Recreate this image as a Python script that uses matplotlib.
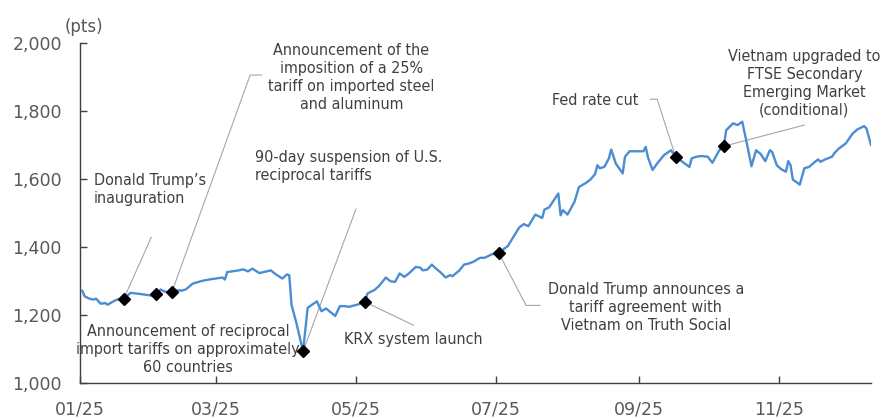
import matplotlib
matplotlib.use("Agg")
import matplotlib.pyplot as plt
import matplotlib.dates as mdates
from matplotlib.ticker import FuncFormatter, FixedLocator
import pandas as pd

# VN-Index closing levels, 2025 (pts)
dates = [
    "2025-01-02", "2025-01-03", "2025-01-05", "2025-01-07", "2025-01-08", "2025-01-10",
    "2025-01-12", "2025-01-13", "2025-01-15", "2025-01-17", "2025-01-19", "2025-01-20",
    "2025-01-23", "2025-01-29", "2025-02-03", "2025-02-05", "2025-02-07", "2025-02-10",
    "2025-02-13", "2025-02-14", "2025-02-16", "2025-02-19", "2025-02-23", "2025-02-26",
    "2025-03-04", "2025-03-05", "2025-03-06", "2025-03-11", "2025-03-13", "2025-03-15",
    "2025-03-17", "2025-03-20", "2025-03-25", "2025-03-27", "2025-03-30", "2025-04-01",
    "2025-04-02", "2025-04-03", "2025-04-05", "2025-04-08", "2025-04-10", "2025-04-14",
    "2025-04-16", "2025-04-18", "2025-04-22", "2025-04-24", "2025-04-26", "2025-04-28",
    "2025-05-02", "2025-05-05", "2025-05-06", "2025-05-08", "2025-05-09", "2025-05-11",
    "2025-05-14", "2025-05-16", "2025-05-18", "2025-05-20", "2025-05-22", "2025-05-24",
    "2025-05-27", "2025-05-29", "2025-05-30", "2025-06-01", "2025-06-03", "2025-06-04",
    "2025-06-07", "2025-06-09", "2025-06-11", "2025-06-12", "2025-06-15", "2025-06-17",
    "2025-06-19", "2025-06-21", "2025-06-24", "2025-06-26", "2025-06-29", "2025-07-02",
    "2025-07-06", "2025-07-11", "2025-07-13", "2025-07-15", "2025-07-18", "2025-07-21",
    "2025-07-22", "2025-07-24", "2025-07-28", "2025-07-29", "2025-07-30", "2025-08-01",
    "2025-08-04", "2025-08-06", "2025-08-09", "2025-08-11", "2025-08-13", "2025-08-14",
    "2025-08-15", "2025-08-17", "2025-08-19", "2025-08-20", "2025-08-22", "2025-08-25",
    "2025-08-26", "2025-08-28", "2025-09-03", "2025-09-04", "2025-09-05", "2025-09-07",
    "2025-09-09", "2025-09-12", "2025-09-15", "2025-09-17", "2025-09-20", "2025-09-23",
    "2025-09-24", "2025-09-26", "2025-09-28", "2025-10-01", "2025-10-03", "2025-10-06",
    "2025-10-08", "2025-10-09", "2025-10-12", "2025-10-14", "2025-10-16", "2025-10-18",
    "2025-10-20", "2025-10-22", "2025-10-24", "2025-10-26", "2025-10-28", "2025-10-29",
    "2025-10-31", "2025-11-02", "2025-11-04", "2025-11-05", "2025-11-06", "2025-11-07",
    "2025-11-10", "2025-11-12", "2025-11-14", "2025-11-17", "2025-11-18", "2025-11-19",
    "2025-11-21", "2025-11-24", "2025-11-25", "2025-11-27", "2025-11-30", "2025-12-03",
    "2025-12-05", "2025-12-08", "2025-12-09", "2025-12-11",
]
index_pts = [
    1271, 1255, 1248, 1245, 1248, 1233,
    1235, 1230, 1238, 1245, 1246, 1247,
    1265, 1260, 1255, 1275, 1268, 1268,
    1273, 1271, 1275, 1292, 1300, 1304,
    1310, 1304, 1326, 1331, 1334, 1328,
    1336, 1323, 1331, 1320, 1307, 1319,
    1317, 1229, 1179, 1093, 1221, 1240,
    1211, 1219, 1197, 1226, 1226, 1224,
    1231, 1238, 1263, 1270, 1273, 1285,
    1310, 1299, 1297, 1322, 1312, 1322,
    1341, 1339, 1331, 1333, 1348, 1341,
    1324, 1310, 1317, 1314, 1331, 1348,
    1351, 1356, 1368, 1368, 1378, 1383,
    1402, 1457, 1467, 1461, 1495, 1485,
    1510, 1516, 1557, 1493, 1508, 1495,
    1532, 1576, 1588, 1598, 1614, 1640,
    1631, 1635, 1660, 1686, 1645, 1616,
    1665, 1681, 1681, 1694, 1663, 1626,
    1645, 1670, 1684, 1665, 1650, 1635,
    1660, 1665, 1667, 1665, 1647, 1684,
    1696, 1743, 1763, 1758, 1768, 1704,
    1637, 1684, 1673, 1652, 1684, 1679,
    1640, 1628, 1621, 1652, 1640, 1598,
    1583, 1631, 1635, 1652, 1657, 1650,
    1657, 1665, 1675, 1689, 1704, 1733,
    1745, 1755, 1748, 1699,
]

# Event markers
event_dates = ["2025-01-20", "2025-02-03", "2025-02-10", "2025-04-08",
               "2025-05-05", "2025-07-02", "2025-09-17", "2025-10-08"]
event_pts = [1247, 1263, 1268, 1093, 1238, 1383, 1665, 1696]

x_tick_dates = ["2025-01-01", "2025-03-01", "2025-05-01", "2025-07-01",
                "2025-09-01", "2025-11-01"]
y_ticks = [1000, 1200, 1400, 1600, 1800, 2000]

LINE_BLUE = "#4a8dd2"
TEXT_GREY = "#404040"
TICK_GREY = "#595959"
LEADER_GREY = "#a6a6a6"

x = pd.to_datetime(dates)
ex = pd.to_datetime(event_dates)

fig = plt.figure(figsize=(8.81, 4.18), dpi=100)
ax = fig.add_axes([0.0908, 0.0837, 0.8979, 0.8141])

ax.plot(x, index_pts, color=LINE_BLUE, lw=1.7, solid_joinstyle="round", zorder=3)
ax.plot(ex, event_pts, ls="none", marker="D", ms=6.5, color="black", zorder=4)

ax.set_ylim(1000, 2000)
ax.set_xlim(pd.Timestamp("2025-01-01"), pd.Timestamp("2025-12-11"))
ax.yaxis.set_major_locator(FixedLocator(y_ticks))
ax.yaxis.set_major_formatter(FuncFormatter(lambda v, p: f"{int(v):,}"))
ax.xaxis.set_major_locator(FixedLocator(mdates.date2num(pd.to_datetime(x_tick_dates))))
ax.xaxis.set_major_formatter(mdates.DateFormatter("%m/%y"))

for s in ("top", "right"):
    ax.spines[s].set_visible(False)
for s in ("left", "bottom"):
    ax.spines[s].set_color("#404040")
    ax.spines[s].set_linewidth(1.0)
ax.tick_params(direction="in", length=5, width=1.0, color="#404040",
               labelsize=12.5, labelcolor=TICK_GREY)
ax.tick_params(axis="x", pad=12.5)
ax.tick_params(axis="y", pad=13)

ax.text(-0.02, 1.045, "(pts)", transform=ax.transAxes, fontsize=12,
        color=TICK_GREY, ha="left", va="center")

ann_font = dict(fontsize=11.5, color=TEXT_GREY, family="DejaVu Sans",
                fontstretch="condensed", linespacing=1.25)


def d(s):
    return mdates.date2num(pd.Timestamp(s))


def leader(*pts):
    xs = [d(p[0]) for p in pts]
    ys = [p[1] for p in pts]
    ax.plot(xs, ys, color=LEADER_GREY, lw=0.8, zorder=2)


# Inauguration
ax.text(d("2025-01-07"), 1568, "Donald Trump\u2019s\ninauguration",
        ha="left", va="center", **ann_font)
leader(("2025-02-01", 1428), (event_dates[0], event_pts[0]))

# Steel and aluminum tariff
ax.text(d("2025-04-29"), 1899,
        "Announcement of the\nimposition of a 25%\ntariff on imported steel\nand aluminum",
        ha="center", va="center", **ann_font)
leader(("2025-03-21", 1905), ("2025-03-16", 1905), (event_dates[2], event_pts[2]))

# 90-day suspension
ax.text(d("2025-03-18"), 1636, "90-day suspension of U.S.\nreciprocal tariffs",
        ha="left", va="center", **ann_font)
leader(("2025-05-01", 1511), (event_dates[3], event_pts[3]))

# Reciprocal tariffs announcement
ax.text(d("2025-02-17"), 1099,
        "Announcement of reciprocal\nimport tariffs on approximately\n60 countries",
        ha="center", va="center", **ann_font)
leader(("2025-04-05", 1096), (event_dates[3], event_pts[3]))

# KRX
ax.text(d("2025-05-26"), 1128, "KRX system launch", ha="center", va="center",
        **ann_font)
leader((event_dates[4], event_pts[4]), ("2025-05-26", 1170))

# Tariff agreement with Vietnam
ax.text(d("2025-09-04"), 1221,
        "Donald Trump announces a\ntariff agreement with\nVietnam on Truth Social",
        ha="center", va="center", **ann_font)
leader((event_dates[5], event_pts[5]), ("2025-07-14", 1228), ("2025-07-20", 1228))

# Fed rate cut
ax.text(d("2025-09-01"), 1831, "Fed rate cut", ha="right", va="center", **ann_font)
leader(("2025-09-06", 1834), ("2025-09-09", 1834), (event_dates[6], event_pts[6]))

# FTSE upgrade
ax.text(d("2025-11-12"), 1881,
        "Vietnam upgraded to\nFTSE Secondary\nEmerging Market\n(conditional)",
        ha="center", va="center", **ann_font)
leader(("2025-11-12", 1758), (event_dates[7], event_pts[7]))

fig.savefig("out.png", dpi=100)
